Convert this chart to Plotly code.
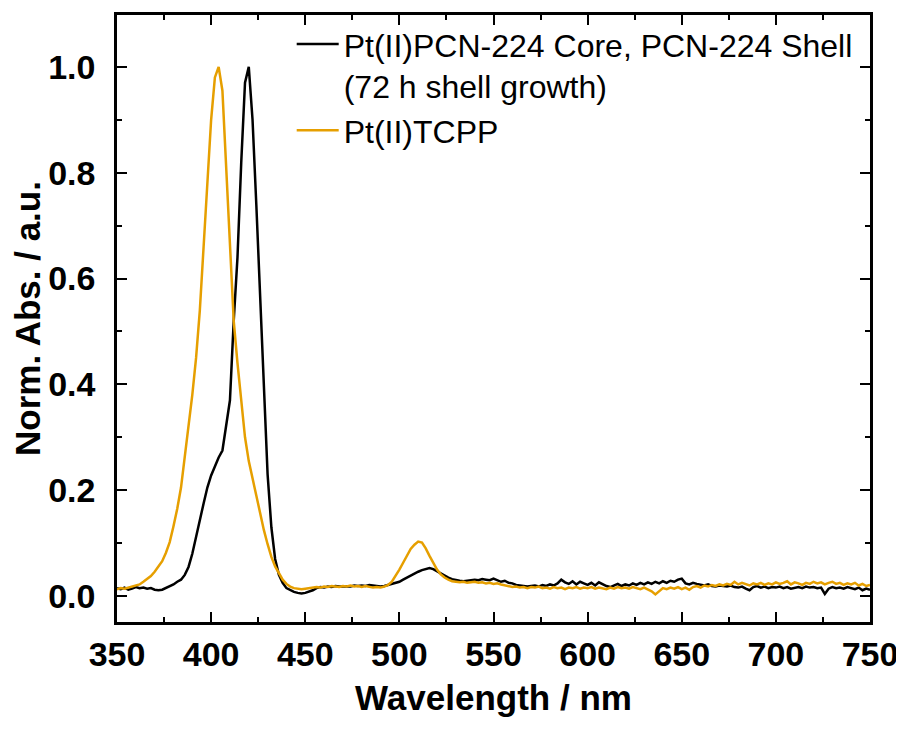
import plotly.graph_objects as go

wavelength = list(range(350, 752, 2))

core_shell = [
    0.015, 0.013, 0.016, 0.012, 0.014, 0.017, 0.015, 0.016, 0.014, 0.015,  # 350-368
    0.012, 0.011, 0.012, 0.015, 0.019, 0.022, 0.027, 0.031, 0.040, 0.055,  # 370-388
    0.080, 0.112, 0.148, 0.175, 0.205, 0.228, 0.245, 0.262, 0.275, 0.320,  # 390-408
    0.370, 0.520, 0.640, 0.820, 0.970, 1.000, 0.900, 0.740, 0.570, 0.370,  # 410-428
    0.230, 0.130, 0.070, 0.040, 0.025, 0.015, 0.011, 0.008, 0.006, 0.005,  # 430-448
    0.006, 0.008, 0.011, 0.015, 0.017, 0.016, 0.018, 0.017, 0.019, 0.018,  # 450-468
    0.018, 0.019, 0.018, 0.020, 0.019, 0.020, 0.019, 0.021, 0.020, 0.019,  # 470-488
    0.018, 0.019, 0.021, 0.023, 0.025, 0.027, 0.031, 0.035, 0.039, 0.042,  # 490-508
    0.046, 0.049, 0.051, 0.053, 0.051, 0.047, 0.043, 0.038, 0.035, 0.032,  # 510-528
    0.030, 0.029, 0.028, 0.029, 0.030, 0.031, 0.030, 0.032, 0.031, 0.030,  # 530-548
    0.033, 0.030, 0.027, 0.029, 0.025, 0.024, 0.021, 0.020, 0.019, 0.018,  # 550-568
    0.019, 0.020, 0.018, 0.021, 0.019, 0.022, 0.020, 0.024, 0.031, 0.026,  # 570-588
    0.023, 0.028, 0.022, 0.027, 0.024, 0.021, 0.025, 0.020, 0.026, 0.022,  # 590-608
    0.019, 0.017, 0.020, 0.023, 0.019, 0.022, 0.020, 0.024, 0.021, 0.025,  # 610-628
    0.022, 0.026, 0.023, 0.027, 0.024, 0.028, 0.025, 0.029, 0.027, 0.031,  # 630-648
    0.033, 0.024, 0.022, 0.025, 0.023, 0.021, 0.020, 0.022, 0.019, 0.018,  # 650-668
    0.020, 0.019, 0.018, 0.020, 0.017, 0.016, 0.018, 0.014, 0.011, 0.017,  # 670-688
    0.019, 0.016, 0.018, 0.015, 0.017, 0.016, 0.018, 0.015, 0.017, 0.014,  # 690-708
    0.016, 0.017, 0.015, 0.018, 0.016, 0.017, 0.015, 0.016, 0.004, 0.014,  # 710-728
    0.017, 0.015, 0.016, 0.014, 0.017, 0.015, 0.013, 0.016, 0.011, 0.014,  # 730-748
    0.012,                                                                 # 750
]

tcpp = [
    0.013, 0.015, 0.014, 0.016, 0.018, 0.020, 0.022, 0.027, 0.032, 0.038,  # 350-368
    0.046, 0.055, 0.066, 0.082, 0.102, 0.132, 0.165, 0.205, 0.260, 0.320,  # 370-388
    0.380, 0.450, 0.540, 0.660, 0.780, 0.900, 0.980, 1.000, 0.955, 0.810,  # 390-408
    0.660, 0.520, 0.440, 0.365, 0.300, 0.255, 0.222, 0.190, 0.158, 0.125,  # 410-428
    0.098, 0.074, 0.056, 0.042, 0.031, 0.023, 0.018, 0.015, 0.014, 0.013,  # 430-448
    0.014, 0.015, 0.016, 0.017, 0.016, 0.018, 0.017, 0.019, 0.018, 0.017,  # 450-468
    0.019, 0.018, 0.020, 0.018, 0.019, 0.017, 0.019, 0.018, 0.016, 0.017,  # 470-488
    0.016, 0.018, 0.021, 0.027, 0.038, 0.050, 0.063, 0.077, 0.089, 0.097,  # 490-508
    0.103, 0.101, 0.090, 0.076, 0.062, 0.050, 0.041, 0.035, 0.031, 0.028,  # 510-528
    0.027, 0.026, 0.027, 0.025, 0.026, 0.027, 0.025, 0.026, 0.024, 0.025,  # 530-548
    0.023, 0.024, 0.022, 0.020, 0.019, 0.017, 0.018, 0.016, 0.017, 0.015,  # 550-568
    0.017, 0.016, 0.018, 0.015, 0.016, 0.014, 0.017, 0.015, 0.016, 0.013,  # 570-588
    0.016, 0.015, 0.017, 0.014, 0.016, 0.015, 0.017, 0.014, 0.016, 0.015,  # 590-608
    0.013, 0.016, 0.014, 0.017, 0.015, 0.016, 0.014, 0.017, 0.015, 0.013,  # 610-628
    0.016, 0.012, 0.009, 0.003, 0.010, 0.015, 0.013, 0.016, 0.014, 0.017,  # 630-648
    0.013, 0.016, 0.012, 0.017, 0.019, 0.016, 0.020, 0.018, 0.021, 0.019,  # 650-668
    0.022, 0.020, 0.023, 0.021, 0.027, 0.022, 0.025, 0.023, 0.020, 0.024,  # 670-688
    0.022, 0.025, 0.021, 0.024, 0.022, 0.026, 0.023, 0.025, 0.028, 0.022,  # 690-708
    0.026, 0.024, 0.021, 0.025, 0.023, 0.027, 0.024, 0.026, 0.022, 0.025,  # 710-728
    0.027, 0.023, 0.025, 0.021, 0.024, 0.022, 0.025, 0.020, 0.023, 0.019,  # 730-748
    0.021,                                                                 # 750
]

series_names = ["Pt(II)PCN-224 Core, PCN-224 Shell<br>(72 h shell growth)", "Pt(II)TCPP"]
series_colors = ["#000000", "#E69F00"]

x_ticks = [350, 400, 450, 500, 550, 600, 650, 700, 750]
y_ticks = [0.0, 0.2, 0.4, 0.6, 0.8, 1.0]

FONT = "Liberation Sans, Arial, sans-serif"

fig = go.Figure()
for name, vals, col in zip(series_names, [core_shell, tcpp], series_colors):
    fig.add_trace(go.Scatter(x=wavelength, y=vals, mode="lines", name=name,
                             line=dict(color=col, width=2.5)))

axis_common = dict(
    showline=True, linecolor="black", linewidth=2.5, mirror="allticks",
    ticks="inside", ticklen=10, tickwidth=2, tickcolor="black",
    showgrid=False, zeroline=False,
    tickfont=dict(family=FONT, size=34, color="black", weight="bold"),
    ticklabeloverflow="allow",
)

fig.update_xaxes(
    range=[350, 750], tickvals=x_ticks, ticktext=[str(v) for v in x_ticks],
    minor=dict(dtick=25, tick0=350, ticks="inside", ticklen=5, tickwidth=2, tickcolor="black"),
    title=dict(text="Wavelength / nm", font=dict(family=FONT, size=35, color="black", weight="bold"),
               standoff=14),
    ticklabelstandoff=0,
    **axis_common,
)
fig.update_yaxes(
    range=[-0.049, 1.098], tickvals=y_ticks, ticktext=[f"{v:.1f}" for v in y_ticks],
    minor=dict(dtick=0.1, tick0=0, ticks="inside", ticklen=5, tickwidth=2, tickcolor="black"),
    title=dict(text="Norm. Abs. / a.u.", font=dict(family=FONT, size=35, color="black", weight="bold"),
               standoff=10),
    ticklabelstandoff=12,
    **axis_common,
)

fig.update_layout(
    width=896, height=715,
    margin=dict(l=109, r=34, t=7, b=101, autoexpand=False),
    plot_bgcolor="white", paper_bgcolor="white",
    showlegend=True,
    legend=dict(x=0.232, y=0.997, xanchor="left", yanchor="top", valign="top",
                bgcolor="rgba(0,0,0,0)", borderwidth=0, itemwidth=42,
                font=dict(family=FONT, size=32, color="black"),
                tracegroupgap=0),
)

fig.write_html("out.html")
